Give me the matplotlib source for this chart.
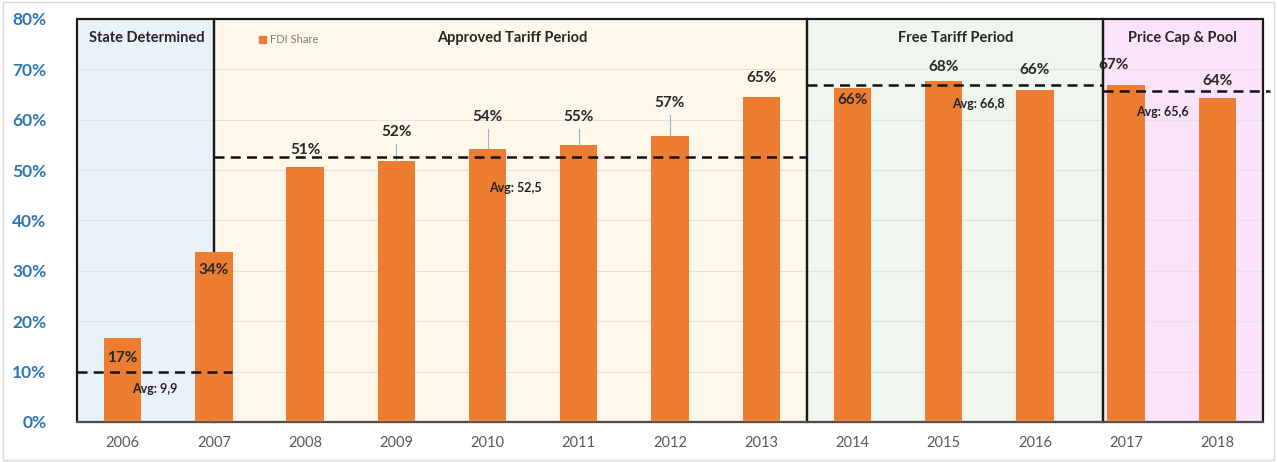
import matplotlib
matplotlib.use("Agg")
import matplotlib.pyplot as plt
from matplotlib.patches import Rectangle, Patch
import numpy as np

plt.rcParams['font.family'] = ['Lato', 'DejaVu Sans']

years = ["2006", "2007", "2008", "2009", "2010", "2011", "2012",
         "2013", "2014", "2015", "2016", "2017", "2018"]
fdi_share = [16.7, 33.8, 50.6, 51.8, 54.2, 55.0, 56.8, 64.5, 66.2, 67.6, 65.9, 66.8, 64.3]
value_labels = ["17%", "34%", "51%", "52%", "54%", "55%", "57%", "65%",
                "66%", "68%", "66%", "67%", "64%"]

period_names = ["State Determined", "Approved Tariff Period", "Free Tariff Period", "Price Cap & Pool"]
period_bounds = [(-0.5, 1.0), (1.0, 7.5), (7.5, 10.75), (10.75, 12.5)]
period_avgs = [9.9, 52.5, 66.8, 65.6]
avg_labels = ["Avg: 9,9", "Avg: 52,5", "Avg: 66,8", "Avg: 65,6"]

# layout (styling) only
period_colors = ["#E9F1FA", "#FFF8EA", "#EFF6EE", "#FCE3FC"]
avg_line_extent = [(-0.5, 1.2), (1.0, 7.5), (7.5, 10.75), (10.75, 12.58)]
avg_text_pos = [(0.35, 6.5), (4.3, 46.5), (9.38, 63.2), (11.4, 61.6)]
title_x = [0.27, 4.27, 9.13, 11.62]
label_pos = [(0, 12.7), (1, 30.2), (2, 54.0), (3, 57.5), (4, 60.5), (5, 60.5), (6, 63.3),
             (7, 68.3), (8, 63.9), (9, 70.4), (10, 69.8), (10.86, 70.8), (12, 67.7)]
leader = [False, False, False, True, True, True, True, False, False, False, False, False, False]

fig = plt.figure(figsize=(12.77, 4.62), dpi=100)
ax = fig.add_axes([0.0603, 0.0866, 0.9287, 0.8724])

x = np.arange(len(years))
ax.set_xlim(-0.5, 12.5)
ax.set_ylim(0, 80)

# period shading
for (a, b), c in zip(period_bounds, period_colors):
    ax.add_patch(Rectangle((a, 0), b - a, 80, facecolor=c, edgecolor="none", zorder=0))

# gridlines
for g in range(10, 80, 10):
    ax.axhline(g, color="#E2E2E2", lw=0.8, zorder=0.5)

# period borders
for (a, b) in period_bounds:
    ax.add_patch(Rectangle((a, 0), b - a, 80, facecolor="none", edgecolor="#1A1A1A",
                           lw=1.6, zorder=1, clip_on=False))

bars = ax.bar(x, fdi_share, width=0.41, color="#ED7D31", zorder=2, label="FDI Share")

# average lines
for (a, b), v, t, (tx, ty) in zip(avg_line_extent, period_avgs, avg_labels, avg_text_pos):
    ax.plot([a, b], [v, v], ls=(0, (4, 2.5)), color="#111111", lw=1.8, zorder=4, clip_on=False)
    ax.text(tx, ty, t, fontsize=9, fontweight="bold", color="#222222", ha="center",
            va="center", zorder=5)

# value labels
for i, (lab, (lx, ly), ld) in enumerate(zip(value_labels, label_pos, leader)):
    ax.text(lx, ly, lab, fontsize=11, fontweight="bold", color="#262626",
            ha="center", va="center", zorder=5)
    if ld:
        ax.plot([i, i], [fdi_share[i], ly - 2.4], color="#9DB3C9", lw=0.8, zorder=1.5)

# period titles
for name, tx in zip(period_names, title_x):
    ax.text(tx, 76.3, name, fontsize=10.5, fontweight="bold", color="#262626",
            ha="center", va="center", zorder=5)

# legend
ax.legend(handles=[Patch(color="#ED7D31", label="FDI Share")], loc="center left",
          bbox_to_anchor=(0.145, 0.948), frameon=False, fontsize=8,
          labelcolor="#7F7F7F", handlelength=0.6, handleheight=0.6, handletextpad=0.4)

ax.set_xticks(x)
ax.set_xticklabels(years, fontsize=10.5, color="#595959")
ax.set_yticks(range(0, 81, 10))
ax.set_yticklabels([f"{v}%" for v in range(0, 81, 10)], fontsize=12.5,
                   fontweight="bold", color="#2E75B6")
ax.tick_params(axis="both", length=0)
ax.tick_params(axis="y", pad=22)
ax.tick_params(axis="x", pad=10)
for s in ["top", "right", "left"]:
    ax.spines[s].set_visible(False)
ax.spines["bottom"].set_color("#595959")
ax.spines["bottom"].set_linewidth(1.2)
ax.set_zorder(1)

fig.patches.append(Rectangle((0.002, 0.004), 0.996, 0.992, transform=fig.transFigure,
                             facecolor="none", edgecolor="#D9D9D9", lw=1))
fig.savefig("out.png", dpi=100, facecolor="white")
